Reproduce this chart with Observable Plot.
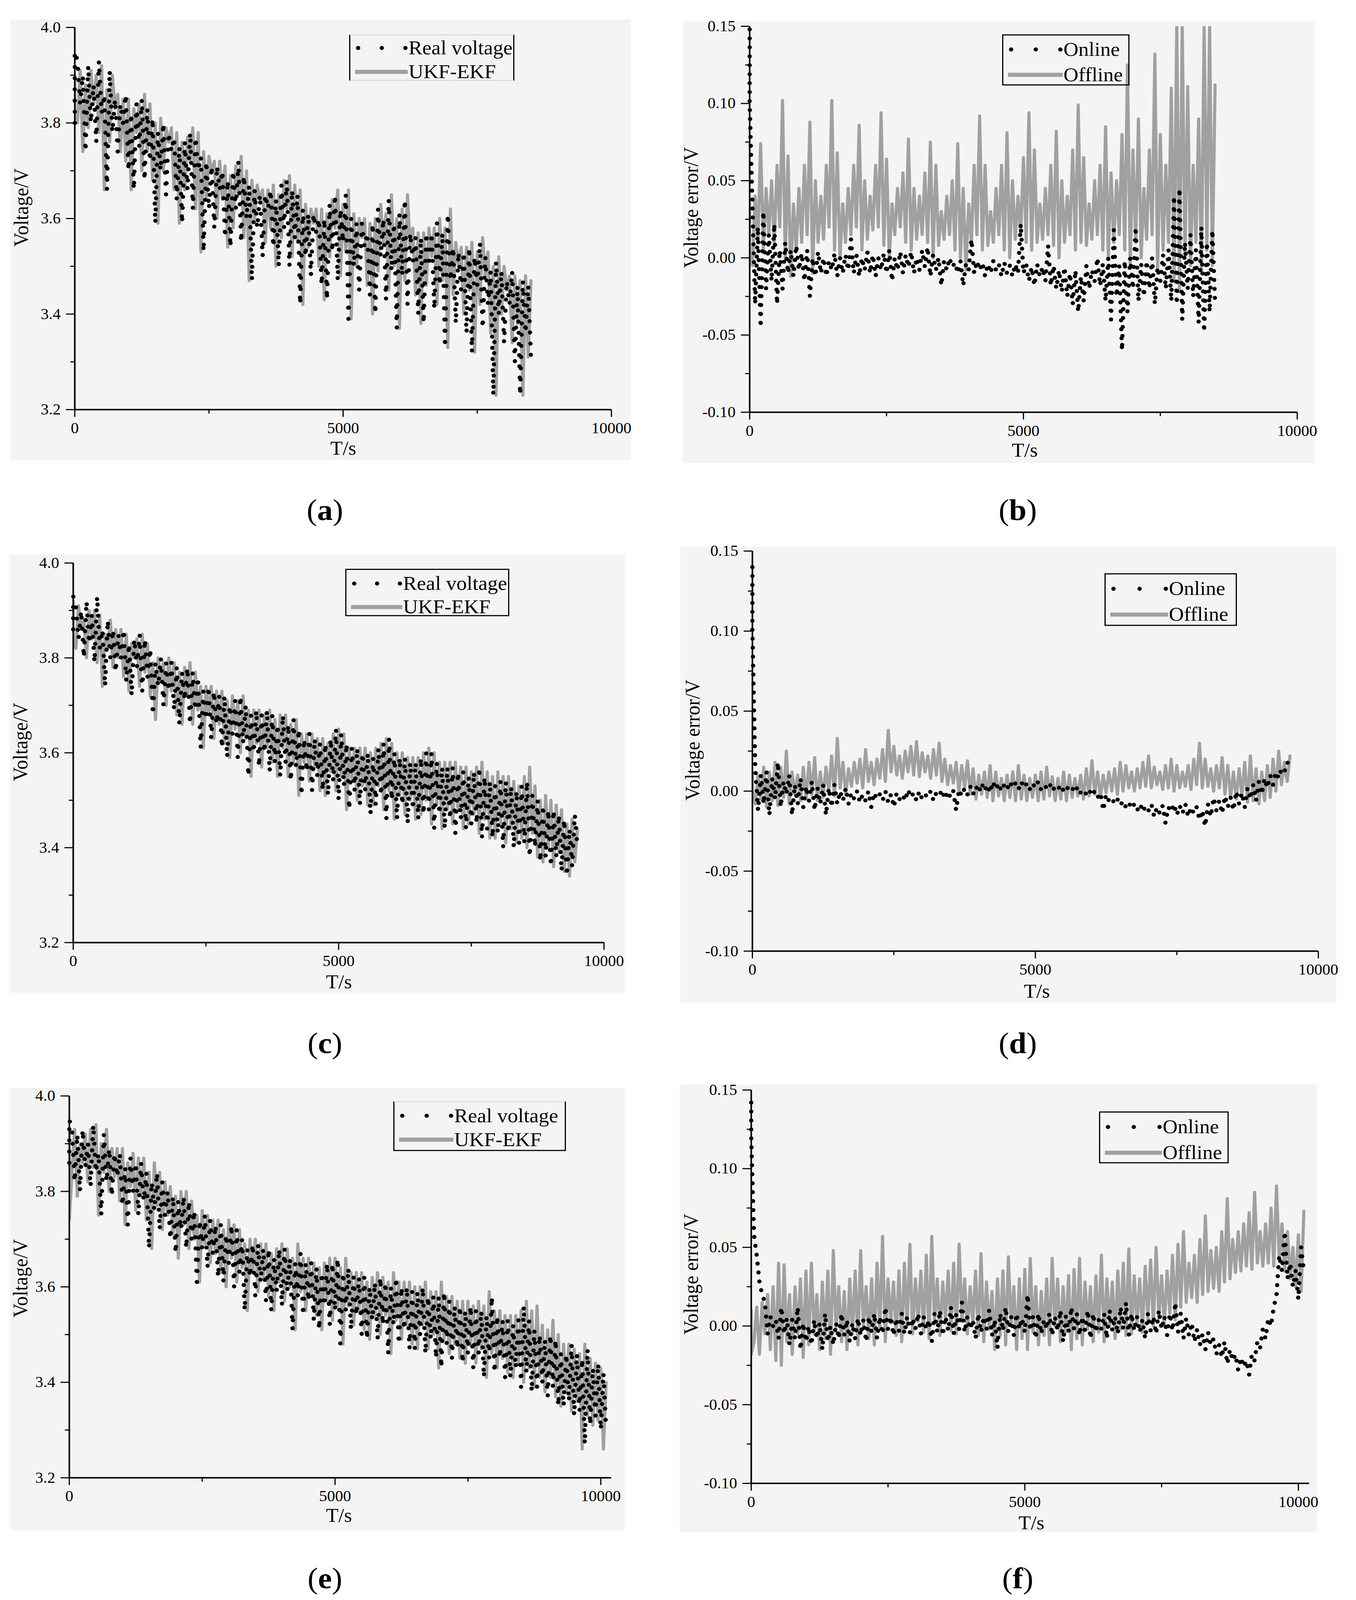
<!DOCTYPE html>
<html>
<head>
<meta charset="utf-8">
<script src="https://cdn.jsdelivr.net/npm/d3@7"></script>
<script src="https://cdn.jsdelivr.net/npm/@observablehq/plot@0.6"></script>
<style>
  html, body { margin: 0; padding: 0; background: #ffffff; overflow: hidden; }
  #page { position: absolute; left: 0; top: 0; width: 3472px; height: 4287px; background: #ffffff; overflow: hidden;
          transform-origin: 0 0; font-family: "Liberation Serif", "Times New Roman", serif; color: #000; }
  .panel { position: absolute; background: #f4f4f4; }
  .panel svg { display: block; overflow: visible; }
  .txt { position: absolute; white-space: nowrap; transform: translate(-50%, -50%); line-height: 1; }
  .ytitle { transform: translate(-50%, -50%) rotate(-90deg); }
  .legend { position: absolute; box-sizing: border-box; }
  .legend .row { position: absolute; display: flex; align-items: center; transform: translateY(-50%); }
  .legend svg { display: block; }
</style>
</head>
<body>
<div id="page"></div>
<script>
// ================= data =================
// sampling instants (s): grid points and half-step points
const TIME = [
  0,100,200,300,400,500,600,700,800,900,
  1000,1100,1200,1300,1400,1500,1600,1700,1800,1900,
  2000,2100,2200,2300,2400,2500,2600,2700,2800,2900,
  3000,3100,3200,3300,3400,3500,3600,3700,3800,3900,
  4000,4100,4200,4300,4400,4500,4600,4700,4800,4900,
  5000,5100,5200,5300,5400,5500,5600,5700,5800,5900,
  6000,6100,6200,6300,6400,6500,6600,6700,6800,6900,
  7000,7100,7200,7300,7400,7500,7600,7700,7800,7900,
  8000,8100,8200,8300,8400,8500,8600,8700,8800,8900,
  9000,9100,9200,9300,9400,9500,9600,9700,9800,9900,
  10000,10100
];
const TIME_MID = [
  0,50,150,250,350,450,550,650,750,850,
  950,1050,1150,1250,1350,1450,1550,1650,1750,1850,
  1950,2050,2150,2250,2350,2450,2550,2650,2750,2850,
  2950,3050,3150,3250,3350,3450,3550,3650,3750,3850,
  3950,4050,4150,4250,4350,4450,4550,4650,4750,4850,
  4950,5050,5150,5250,5350,5450,5550,5650,5750,5850,
  5950,6050,6150,6250,6350,6450,6550,6650,6750,6850,
  6950,7050,7150,7250,7350,7450,7550,7650,7750,7850,
  7950,8050,8150,8250,8350,8450,8550,8650,8750,8850,
  8950,9050,9150,9250,9350,9450,9550,9650,9750,9850,
  9950,10050
];

// ---- (a) voltage (V). UKF-EKF: upper samples on TIME, lower samples on TIME_MID
const ukfHiA = [
  3.90,3.91,3.88,3.91,3.90,3.92,3.87,3.90,3.86,3.85,
  3.85,3.83,3.84,3.86,3.84,3.80,3.81,3.79,3.79,3.78,
  3.76,3.77,3.79,3.78,3.74,3.73,3.72,3.72,3.71,3.69,
  3.71,3.73,3.70,3.68,3.67,3.66,3.66,3.67,3.65,3.68,
  3.69,3.67,3.66,3.63,3.62,3.62,3.62,3.61,3.64,3.66,
  3.63,3.66,3.61,3.60,3.60,3.59,3.60,3.63,3.61,3.65,
  3.60,3.62,3.65,3.58,3.57,3.57,3.58,3.58,3.60,3.58,
  3.62,3.55,3.54,3.54,3.55,3.53,3.56,3.53,3.50,3.52,
  3.50,3.48,3.48,3.47,3.48,3.47
];
const ukfLoA = [
  3.82,3.80,3.74,3.79,3.84,3.78,3.66,3.76,3.83,3.74,
  3.72,3.66,3.78,3.70,3.74,3.68,3.59,3.70,3.76,3.66,
  3.59,3.66,3.72,3.62,3.53,3.64,3.70,3.60,3.64,3.54,
  3.58,3.65,3.56,3.47,3.60,3.64,3.55,3.58,3.50,3.56,
  3.62,3.52,3.55,3.42,3.54,3.59,3.50,3.43,3.52,3.58,
  3.48,3.53,3.39,3.50,3.56,3.46,3.40,3.49,3.55,3.45,
  3.50,3.37,3.47,3.54,3.44,3.38,3.46,3.52,3.42,3.47,
  3.33,3.44,3.50,3.40,3.45,3.32,3.42,3.48,3.36,3.23,
  3.40,3.45,3.34,3.38,3.23,3.31
];
// real voltage: lower samples on TIME, upper samples on TIME_MID
const realLoA = [
  3.80,3.84,3.74,3.80,3.76,3.82,3.66,3.78,3.74,3.80,
  3.70,3.66,3.75,3.68,3.72,3.59,3.70,3.65,3.74,3.64,
  3.59,3.66,3.62,3.70,3.53,3.62,3.58,3.66,3.56,3.54,
  3.62,3.55,3.60,3.47,3.58,3.52,3.62,3.54,3.50,3.58,
  3.50,3.56,3.42,3.52,3.48,3.57,3.46,3.43,3.53,3.47,
  3.55,3.39,3.50,3.45,3.54,3.44,3.40,3.52,3.43,3.49,
  3.37,3.48,3.42,3.51,3.40,3.38,3.50,3.41,3.46,3.33,
  3.47,3.38,3.45,3.36,3.32,3.46,3.37,3.42,3.23,3.40,
  3.34,3.42,3.30,3.23,3.36,3.31
];
const realHiA = [
  3.95,3.93,3.90,3.92,3.88,3.93,3.86,3.91,3.85,3.84,
  3.86,3.82,3.84,3.85,3.83,3.81,3.78,3.80,3.78,3.77,
  3.75,3.76,3.78,3.77,3.73,3.72,3.71,3.71,3.70,3.68,
  3.70,3.72,3.69,3.67,3.66,3.65,3.65,3.66,3.64,3.67,
  3.68,3.66,3.65,3.62,3.61,3.61,3.60,3.60,3.63,3.65,
  3.62,3.65,3.60,3.59,3.59,3.57,3.59,3.62,3.60,3.64,
  3.59,3.61,3.64,3.57,3.56,3.56,3.57,3.57,3.59,3.57,
  3.61,3.54,3.53,3.53,3.54,3.52,3.55,3.52,3.49,3.51,
  3.49,3.47,3.49,3.46,3.47,3.46
];

// ---- (b) voltage error (V). Offline: upper on TIME, lower on TIME_MID
const offHiB = [
  0.035,0.040,0.074,0.045,0.050,0.060,0.102,0.066,0.035,0.045,
  0.060,0.088,0.050,0.040,0.060,0.102,0.068,0.035,0.045,0.060,
  0.086,0.050,0.040,0.060,0.094,0.064,0.035,0.045,0.055,0.077,
  0.045,0.040,0.055,0.075,0.060,0.030,0.040,0.050,0.074,0.045,
  0.035,0.060,0.092,0.060,0.030,0.045,0.060,0.081,0.050,0.040,
  0.065,0.094,0.070,0.035,0.045,0.060,0.082,0.050,0.040,0.070,
  0.099,0.065,0.035,0.050,0.060,0.085,0.055,0.050,0.080,0.125,
  0.070,0.090,0.045,0.070,0.132,0.080,0.060,0.110,0.150,0.150,
  0.111,0.060,0.090,0.150,0.150,0.112
];
const offLoB = [
  0.000,-0.005,0.010,0.005,0.015,0.010,0.020,0.000,-0.012,0.005,
  0.010,0.015,-0.010,0.010,0.012,0.020,0.005,0.000,0.010,0.015,
  0.020,0.005,0.012,0.018,0.020,0.008,0.000,0.015,0.020,0.010,
  0.005,0.012,0.015,0.010,0.000,0.008,0.012,0.015,0.005,0.000,
  -0.008,0.010,0.015,0.005,0.008,0.010,0.015,0.005,0.000,0.012,
  0.015,0.010,0.005,0.010,0.012,0.015,0.008,0.000,0.010,0.015,
  0.005,0.010,0.008,0.012,0.015,0.005,0.000,0.010,0.015,0.005,
  -0.005,0.010,0.000,0.012,0.015,-0.010,0.005,0.010,-0.015,-0.022,
  0.000,-0.005,0.010,-0.010,0.005,-0.005
];
// Online: lower on TIME, upper on TIME_MID
const onLoB = [
  0.148,-0.030,-0.045,-0.020,-0.015,-0.030,-0.020,-0.010,-0.012,-0.008,
  -0.015,-0.025,-0.012,-0.010,-0.012,-0.008,-0.012,-0.010,-0.008,-0.010,
  -0.012,-0.008,-0.010,-0.012,-0.008,-0.010,-0.015,-0.008,-0.010,-0.006,
  -0.010,-0.008,-0.006,-0.012,-0.008,-0.018,-0.008,-0.006,-0.010,-0.018,
  -0.008,-0.010,-0.008,-0.012,-0.010,-0.008,-0.012,-0.010,-0.012,-0.010,
  -0.010,-0.015,-0.018,-0.012,-0.015,-0.018,-0.020,-0.022,-0.025,-0.030,
  -0.035,-0.028,-0.020,-0.015,-0.018,-0.028,-0.040,-0.025,-0.060,-0.035,
  -0.020,-0.028,-0.025,-0.020,-0.030,-0.015,-0.020,-0.028,-0.030,-0.040,
  -0.020,-0.025,-0.042,-0.048,-0.035,-0.030
];
const onHiB = [
  0.100,0.035,0.020,0.030,0.015,0.022,0.005,0.010,0.005,0.008,
  0.003,0.005,0.000,0.004,0.000,-0.002,0.003,0.000,0.002,0.012,
  0.002,0.000,0.004,0.002,0.000,0.003,0.005,0.000,0.004,0.002,
  0.004,0.000,0.005,0.007,0.002,0.000,-0.002,0.000,-0.003,-0.002,
  -0.004,0.012,-0.002,-0.003,-0.004,-0.002,-0.004,-0.003,-0.005,-0.004,
  0.022,-0.004,-0.006,-0.004,-0.006,0.008,-0.005,-0.008,-0.006,-0.010,
  -0.008,-0.012,-0.005,-0.008,0.000,-0.004,0.000,0.018,-0.005,-0.002,
  0.000,0.020,-0.004,-0.002,0.000,-0.006,0.002,0.005,0.040,0.045,
  0.010,0.015,0.005,0.020,0.010,0.018
];

// ---- (c)
const ukfHiC = [
  3.92,3.91,3.88,3.90,3.90,3.89,3.85,3.88,3.86,3.86,
  3.85,3.83,3.84,3.85,3.83,3.79,3.80,3.79,3.80,3.79,
  3.77,3.78,3.79,3.77,3.74,3.74,3.74,3.73,3.73,3.71,
  3.72,3.71,3.72,3.69,3.69,3.69,3.68,3.69,3.67,3.68,
  3.68,3.66,3.67,3.64,3.64,3.64,3.63,3.63,3.62,3.64,
  3.65,3.64,3.61,3.61,3.61,3.61,3.60,3.61,3.62,3.63,
  3.62,3.60,3.60,3.59,3.59,3.59,3.60,3.61,3.60,3.58,
  3.58,3.58,3.58,3.57,3.57,3.56,3.57,3.58,3.56,3.55,
  3.56,3.55,3.55,3.54,3.53,3.55,3.57,3.53,3.50,3.51,
  3.50,3.49,3.48,3.45,3.46,3.44
];
const ukfLoC = [
  3.84,3.82,3.86,3.80,3.84,3.79,3.74,3.82,3.78,3.80,
  3.76,3.73,3.80,3.74,3.77,3.72,3.67,3.75,3.70,3.73,
  3.68,3.66,3.72,3.66,3.69,3.61,3.68,3.63,3.66,3.62,
  3.59,3.65,3.60,3.63,3.55,3.62,3.57,3.61,3.58,3.55,
  3.61,3.55,3.58,3.51,3.58,3.54,3.57,3.52,3.51,3.56,
  3.52,3.55,3.48,3.54,3.50,3.53,3.49,3.49,3.53,3.48,
  3.52,3.46,3.51,3.47,3.50,3.46,3.47,3.50,3.45,3.49,
  3.44,3.48,3.45,3.48,3.44,3.45,3.47,3.43,3.46,3.42,
  3.42,3.45,3.41,3.44,3.41,3.42,3.40,3.43,3.38,3.37,
  3.40,3.36,3.39,3.35,3.34,3.37
];
const realLoC = [
  3.86,3.84,3.80,3.83,3.79,3.82,3.74,3.80,3.77,3.80,
  3.75,3.72,3.78,3.73,3.76,3.68,3.74,3.70,3.73,3.69,
  3.66,3.71,3.66,3.69,3.61,3.67,3.63,3.66,3.61,3.59,
  3.64,3.59,3.62,3.55,3.60,3.57,3.60,3.56,3.58,3.55,
  3.58,3.54,3.57,3.51,3.56,3.52,3.55,3.52,3.51,3.54,
  3.50,3.53,3.48,3.52,3.49,3.52,3.47,3.49,3.51,3.46,
  3.50,3.46,3.49,3.45,3.48,3.46,3.47,3.48,3.44,3.47,
  3.44,3.46,3.43,3.46,3.44,3.45,3.45,3.42,3.44,3.42,
  3.43,3.40,3.43,3.40,3.41,3.41,3.38,3.40,3.37,3.38,
  3.36,3.38,3.35,3.34,3.36,3.40
];
const realHiC = [
  3.93,3.91,3.90,3.92,3.89,3.93,3.86,3.88,3.86,3.85,
  3.86,3.83,3.84,3.85,3.84,3.82,3.79,3.80,3.79,3.79,
  3.78,3.77,3.78,3.77,3.76,3.73,3.74,3.73,3.72,3.72,
  3.70,3.71,3.72,3.70,3.68,3.69,3.68,3.69,3.68,3.66,
  3.68,3.66,3.67,3.65,3.63,3.64,3.63,3.62,3.62,3.63,
  3.65,3.64,3.62,3.61,3.61,3.60,3.60,3.59,3.61,3.62,
  3.63,3.60,3.59,3.59,3.58,3.58,3.59,3.60,3.60,3.58,
  3.57,3.57,3.57,3.56,3.56,3.55,3.56,3.57,3.55,3.54,
  3.53,3.54,3.54,3.53,3.52,3.53,3.54,3.51,3.50,3.49,
  3.48,3.48,3.47,3.46,3.44,3.47
];

// ---- (d)
const offHiD = [
  0.012,0.010,0.015,0.012,0.018,0.015,0.025,0.012,0.010,0.015,
  0.018,0.021,0.012,0.015,0.022,0.033,0.018,0.014,0.018,0.020,
  0.026,0.018,0.020,0.026,0.038,0.028,0.022,0.025,0.028,0.031,
  0.024,0.022,0.026,0.030,0.020,0.016,0.018,0.016,0.019,0.014,
  0.010,0.012,0.016,0.012,0.008,0.010,0.012,0.016,0.010,0.008,
  0.010,0.012,0.015,0.009,0.008,0.012,0.010,0.008,0.010,0.014,
  0.019,0.012,0.010,0.012,0.014,0.018,0.016,0.012,0.014,0.018,
  0.022,0.015,0.012,0.016,0.020,0.016,0.012,0.016,0.020,0.030,
  0.020,0.014,0.016,0.021,0.016,0.012,0.014,0.018,0.022,0.014,
  0.012,0.016,0.020,0.025,0.018,0.022
];
const offLoD = [
  0.000,-0.008,-0.005,-0.010,-0.006,-0.009,-0.004,-0.008,-0.002,-0.006,
  -0.005,-0.002,-0.006,-0.004,0.000,-0.003,0.002,-0.002,0.003,0.005,
  0.002,0.006,0.004,0.008,0.006,0.012,0.010,0.008,0.012,0.010,
  0.009,0.012,0.008,0.010,0.006,0.004,0.005,0.000,0.002,-0.002,
  -0.005,-0.002,-0.004,-0.006,-0.003,-0.006,-0.004,-0.006,-0.005,-0.006,
  -0.004,-0.006,-0.005,-0.003,-0.006,-0.005,-0.006,-0.004,-0.003,-0.005,
  -0.003,-0.002,-0.004,-0.001,0.000,-0.002,0.000,0.002,0.000,0.002,
  0.003,0.002,0.004,0.001,0.002,0.000,0.002,0.003,0.001,0.004,
  0.002,0.003,0.000,0.002,-0.002,-0.004,-0.005,-0.003,-0.007,-0.006,
  -0.008,-0.006,-0.004,0.000,0.004,0.006
];
const onLoD = [
  0.140,-0.012,-0.008,-0.015,-0.005,-0.010,-0.002,-0.015,-0.008,-0.010,
  -0.006,-0.012,-0.008,-0.015,-0.010,-0.008,-0.006,-0.008,-0.005,-0.007,
  -0.006,-0.010,-0.005,-0.006,-0.007,-0.010,-0.005,-0.006,-0.004,-0.006,
  -0.005,-0.004,-0.006,-0.003,-0.005,-0.004,-0.012,-0.003,-0.002,-0.002,
  -0.001,0.000,-0.001,0.001,0.000,0.001,0.002,0.001,0.002,0.001,
  0.002,0.001,0.002,0.000,0.001,0.000,0.000,-0.001,-0.001,-0.002,
  -0.003,-0.004,-0.012,-0.006,-0.008,-0.009,-0.010,-0.011,-0.012,-0.013,
  -0.012,-0.016,-0.014,-0.020,-0.013,-0.015,-0.014,-0.016,-0.014,-0.018,
  -0.022,-0.016,-0.012,-0.014,-0.010,-0.012,-0.008,-0.010,-0.005,-0.006,
  -0.002,0.002,0.004,0.008,0.012,0.016
];
const onHiD = [
  0.100,0.015,0.010,0.012,0.008,0.018,0.006,0.010,0.004,0.008,
  0.003,0.006,0.002,0.004,0.002,0.004,0.000,0.002,-0.001,0.000,
  -0.002,0.000,-0.001,-0.002,0.000,-0.002,-0.001,-0.002,0.001,-0.001,
  0.000,-0.002,0.000,-0.001,0.001,0.000,0.000,0.001,0.002,0.003,
  0.003,0.005,0.004,0.006,0.005,0.004,0.006,0.005,0.006,0.005,
  0.005,0.006,0.004,0.005,0.003,0.004,0.003,0.002,0.003,0.001,
  0.001,0.000,-0.001,-0.002,-0.004,-0.005,-0.006,-0.007,-0.008,-0.008,
  -0.009,-0.008,-0.010,-0.009,-0.010,-0.008,-0.009,-0.008,-0.010,-0.010,
  -0.012,-0.008,-0.004,-0.006,-0.003,-0.004,0.000,-0.001,0.002,0.004,
  0.006,0.008,0.010,0.012,0.014,0.018
];

// ---- (e)
const ukfHiE = [
  3.92,3.93,3.90,3.92,3.93,3.94,3.90,3.93,3.89,3.89,
  3.89,3.86,3.88,3.87,3.87,3.84,3.86,3.84,3.82,3.81,
  3.79,3.80,3.80,3.78,3.75,3.76,3.75,3.74,3.74,3.72,
  3.74,3.73,3.72,3.69,3.70,3.70,3.69,3.69,3.67,3.68,
  3.69,3.68,3.66,3.69,3.66,3.66,3.65,3.64,3.65,3.66,
  3.66,3.64,3.66,3.63,3.63,3.63,3.61,3.62,3.63,3.62,
  3.61,3.63,3.61,3.61,3.61,3.60,3.60,3.61,3.59,3.59,
  3.61,3.58,3.58,3.57,3.57,3.57,3.56,3.57,3.56,3.59,
  3.55,3.55,3.54,3.54,3.54,3.55,3.57,3.55,3.56,3.52,
  3.51,3.53,3.50,3.48,3.48,3.47,3.46,3.48,3.45,3.44,
  3.43,3.40
];
const ukfLoE = [
  3.74,3.84,3.79,3.86,3.82,3.85,3.75,3.84,3.80,3.83,
  3.78,3.73,3.81,3.76,3.79,3.74,3.68,3.77,3.72,3.75,
  3.71,3.66,3.73,3.68,3.70,3.61,3.69,3.65,3.67,3.63,
  3.60,3.66,3.61,3.64,3.55,3.63,3.59,3.62,3.58,3.55,
  3.61,3.57,3.60,3.51,3.59,3.55,3.58,3.54,3.51,3.57,
  3.53,3.56,3.48,3.56,3.52,3.55,3.51,3.49,3.54,3.50,
  3.54,3.46,3.53,3.49,3.52,3.48,3.47,3.52,3.47,3.50,
  3.43,3.49,3.46,3.48,3.45,3.44,3.48,3.44,3.47,3.41,
  3.46,3.43,3.45,3.42,3.41,3.44,3.40,3.43,3.39,3.41,
  3.38,3.41,3.37,3.35,3.38,3.34,3.36,3.26,3.33,3.31,
  3.32,3.26
];
const realLoE = [
  3.86,3.82,3.80,3.85,3.81,3.84,3.75,3.82,3.79,3.83,
  3.77,3.73,3.80,3.75,3.78,3.68,3.76,3.72,3.75,3.70,
  3.67,3.72,3.68,3.70,3.61,3.68,3.64,3.67,3.62,3.61,
  3.65,3.60,3.63,3.55,3.62,3.58,3.61,3.57,3.55,3.59,
  3.56,3.59,3.51,3.58,3.54,3.57,3.53,3.51,3.56,3.52,
  3.55,3.48,3.55,3.51,3.54,3.50,3.49,3.53,3.49,3.52,
  3.46,3.52,3.48,3.51,3.47,3.47,3.50,3.46,3.49,3.45,
  3.43,3.48,3.45,3.47,3.44,3.46,3.43,3.46,3.41,3.45,
  3.42,3.45,3.41,3.41,3.43,3.39,3.42,3.38,3.39,3.40,
  3.37,3.39,3.35,3.35,3.36,3.33,3.34,3.27,3.31,3.33,
  3.30,3.30
];
const realHiE = [
  3.95,3.93,3.92,3.93,3.90,3.94,3.88,3.92,3.89,3.88,
  3.88,3.85,3.87,3.86,3.86,3.84,3.82,3.84,3.82,3.80,
  3.79,3.78,3.79,3.78,3.76,3.74,3.75,3.74,3.73,3.73,
  3.71,3.73,3.72,3.70,3.68,3.69,3.69,3.68,3.68,3.66,
  3.68,3.68,3.66,3.65,3.67,3.65,3.65,3.64,3.63,3.65,
  3.65,3.66,3.63,3.64,3.62,3.62,3.62,3.60,3.61,3.62,
  3.61,3.60,3.62,3.60,3.60,3.59,3.59,3.60,3.58,3.58,
  3.58,3.59,3.57,3.56,3.56,3.55,3.56,3.55,3.55,3.54,
  3.58,3.54,3.53,3.53,3.52,3.53,3.56,3.53,3.51,3.50,
  3.49,3.50,3.49,3.46,3.46,3.48,3.46,3.45,3.47,3.43,
  3.44,3.42
];

// ---- (f)
const offHiF = [
  0.010,0.012,0.015,0.020,0.025,0.040,0.039,0.020,0.025,0.030,
  0.035,0.040,0.020,0.028,0.035,0.048,0.025,0.022,0.030,0.035,
  0.048,0.025,0.030,0.040,0.057,0.030,0.028,0.035,0.040,0.052,
  0.030,0.035,0.045,0.057,0.030,0.028,0.035,0.040,0.052,0.030,
  0.025,0.035,0.046,0.028,0.022,0.030,0.035,0.044,0.025,0.030,
  0.036,0.043,0.025,0.022,0.030,0.043,0.030,0.025,0.032,0.036,
  0.043,0.028,0.025,0.032,0.045,0.030,0.028,0.035,0.040,0.049,
  0.032,0.030,0.038,0.042,0.050,0.032,0.035,0.045,0.052,0.060,
  0.040,0.045,0.055,0.070,0.048,0.050,0.060,0.081,0.055,0.060,
  0.065,0.072,0.085,0.060,0.065,0.075,0.089,0.065,0.060,0.050,
  0.058,0.073
];
const offLoF = [
  -0.018,-0.010,-0.018,-0.005,-0.015,-0.022,-0.025,-0.010,-0.018,-0.005,
  -0.020,-0.012,-0.005,-0.015,-0.008,-0.018,-0.002,-0.010,-0.015,-0.005,
  -0.012,0.000,-0.008,-0.012,-0.002,-0.010,0.002,-0.006,-0.010,0.000,
  -0.005,0.003,-0.004,-0.008,0.002,-0.006,0.004,-0.003,-0.005,0.003,
  -0.005,0.002,-0.006,-0.010,-0.002,-0.015,-0.006,-0.012,0.000,-0.015,
  -0.008,-0.015,-0.004,-0.012,-0.006,-0.012,0.000,-0.010,-0.004,-0.015,
  -0.008,-0.012,-0.002,-0.010,-0.004,-0.010,0.000,-0.008,-0.002,-0.006,
  -0.005,0.002,-0.004,0.004,0.000,0.005,0.000,0.008,0.004,0.012,
  0.015,0.018,0.015,0.020,0.022,0.024,0.022,0.028,0.030,0.034,
  0.035,0.038,0.036,0.040,0.038,0.040,0.038,0.042,0.035,0.030,
  0.025,0.022
];
const onLoF = [
  0.142,0.045,0.020,-0.005,0.000,-0.008,-0.005,-0.012,-0.008,-0.015,
  -0.010,-0.012,-0.008,-0.015,-0.010,-0.012,-0.008,-0.006,-0.010,-0.008,
  -0.006,-0.010,-0.004,-0.008,-0.005,-0.002,-0.006,-0.003,-0.005,-0.004,
  -0.002,-0.005,-0.002,-0.010,-0.004,-0.006,-0.003,-0.005,-0.002,-0.004,
  -0.002,-0.008,-0.004,-0.002,-0.006,-0.014,-0.003,-0.004,-0.006,-0.002,
  -0.004,-0.003,-0.008,-0.005,-0.002,-0.006,-0.003,-0.010,-0.004,-0.002,
  -0.006,-0.003,-0.008,-0.004,-0.002,-0.008,-0.003,-0.005,-0.002,-0.006,
  -0.003,-0.004,-0.008,-0.003,-0.005,-0.002,-0.006,-0.003,-0.004,-0.008,
  -0.006,-0.010,-0.012,-0.015,-0.012,-0.018,-0.020,-0.024,-0.022,-0.028,
  -0.026,-0.031,-0.022,-0.014,-0.008,0.000,0.020,0.035,0.030,0.025,
  0.017,0.035
];
const onHiF = [
  0.120,0.058,0.028,0.015,0.006,0.004,0.012,0.005,0.004,0.012,
  0.002,0.000,0.004,0.002,0.008,0.000,0.002,0.008,0.004,0.002,
  0.005,0.004,0.006,0.008,0.006,0.012,0.006,0.005,0.008,0.006,
  0.005,0.008,0.006,0.004,0.008,0.010,0.006,0.012,0.008,0.015,
  0.006,0.004,0.008,0.006,0.010,0.004,0.008,0.012,0.006,0.008,
  0.005,0.020,0.006,0.008,0.004,0.008,0.006,0.010,0.006,0.012,
  0.008,0.006,0.010,0.008,0.004,0.008,0.010,0.006,0.012,0.015,
  0.008,0.006,0.004,0.008,0.006,0.010,0.006,0.008,0.015,0.008,
  0.005,0.002,-0.002,-0.005,-0.004,-0.008,-0.012,-0.010,-0.015,-0.018,
  -0.020,-0.022,-0.018,-0.010,-0.002,0.005,0.012,0.045,0.060,0.040,
  0.035,0.050
];

// ---- ticks and labels
const VOLT_TICKS = [3.2, 3.4, 3.6, 3.8, 4.0];
const VOLT_MINOR = [3.3, 3.5, 3.7, 3.9];
const ERR_TICKS = [-0.10, -0.05, 0.00, 0.05, 0.10, 0.15];
const ERR_MINOR = [-0.075, -0.025, 0.025, 0.075, 0.125];
const TIME_TICKS = [0, 5000, 10000];
const TIME_MINOR = [2500, 7500];
const VOLT_SERIES = ["Real voltage", "UKF-EKF"];
const ERR_SERIES = ["Online", "Offline"];
const X_TITLE = "T/s";
const VOLT_TITLE = "Voltage/V";
const ERR_TITLE = "Voltage error/V";
const LETTERS = ["a", "b", "c", "d", "e", "f"];

// ================= layout (positions / styles only) =================
const PAGE_W = 3472, PAGE_H = 4287;
const GREY = "#a0a0a0";
const panels = [
  { kind: "volt", greyHi: ukfHiA, greyLo: ukfLoA, blackLo: realLoA, blackHi: realHiA,
    box: [27, 52, 1588, 1181], m: [21, 50, 136, 164], xMax: 10000,
    legend: { x: 894, y: 92, w: 423, h: 125, textX: 1045, rows: [33, 97], border: ["#dcdcdc", "#000", "#dcdcdc", "#000"] },
    xt: [879, 1201], yt: [55, 556], cap: [832, 1366] },
  { kind: "err", greyHi: offHiB, greyLo: offLoB, blackLo: onLoB, blackHi: onHiB,
    box: [1748, 56, 1618, 1185], m: [14, 45, 137, 171], xMax: 10000,
    legend: { x: 2566, y: 92, w: 326, h: 137, textX: 2722, rows: [37, 105], border: ["#000", "#000", "#000", "#000"] },
    xt: [2624, 1207], yt: [1770, 556], cap: [2606, 1366] },
  { kind: "volt", greyHi: ukfHiC, greyLo: ukfLoC, blackLo: realLoC, blackHi: realHiC,
    box: [26, 1485, 1574, 1175], m: [23, 54, 135, 161], xMax: 10000,
    legend: { x: 884, y: 1524, w: 420, h: 127, textX: 1031, rows: [36, 99], border: ["#000", "#000", "#000", "#000"] },
    xt: [868, 2631], yt: [53, 1988], cap: [832, 2795] },
  { kind: "err", greyHi: offHiD, greyLo: offLoD, blackLo: onLoD, blackHi: onHiD,
    box: [1742, 1464, 1680, 1224], m: [12, 47, 140, 184], xMax: 10000,
    legend: { x: 2828, y: 1536, w: 339, h: 141, textX: 2992, rows: [38, 107], border: ["#000", "#000", "#000", "#000"] },
    xt: [2655, 2656], yt: [1774, 1983], cap: [2606, 2795] },
  { kind: "volt", greyHi: ukfHiE, greyLo: ukfLoE, blackLo: realLoE, blackHi: realHiE,
    box: [26, 2915, 1574, 1185], m: [21, 35, 141, 151], xMax: 10200,
    legend: { x: 1007, y: 2950, w: 442, h: 134, textX: 1162, rows: [36, 100], border: ["#dcdcdc", "#000", "#000", "#000"] },
    xt: [868, 4061], yt: [53, 3425], cap: [832, 4229] },
  { kind: "err", greyHi: offHiF, greyLo: offLoF, blackLo: onLoF, blackHi: onHiF,
    box: [1740, 2906, 1632, 1199], m: [14, 20, 131, 183], xMax: 10200,
    legend: { x: 2814, y: 2978, w: 332, h: 139, textX: 2976, rows: [38, 107], border: ["#000", "#000", "#000", "#000"] },
    xt: [2641, 4081], yt: [1770, 3414], cap: [2606, 4229] }
];

// interleave two sampled halves of one series into time order
function series(first, firstTimes, second, secondTimes) {
  const rows = first.map((v, i) => ({ t: firstTimes[i], v, k: 0 }))
    .concat(second.map((v, i) => ({ t: secondTimes[i], v, k: 1 })));
  return rows.sort((p, q) => (p.t - q.t) || (p.k - q.k));
}

function addText(page, html, x, y, size, cls) {
  const d = document.createElement("div");
  d.className = "txt" + (cls ? " " + cls : "");
  d.style.left = x + "px";
  d.style.top = y + "px";
  d.style.fontSize = size + "px";
  d.innerHTML = html;
  page.appendChild(d);
}

function build(p, idx) {
  const page = document.getElementById("page");
  const volt = p.kind === "volt";
  const [bx, by, bw, bh] = p.box;
  const holder = document.createElement("div");
  holder.className = "panel";
  Object.assign(holder.style, { left: bx + "px", top: by + "px", width: bw + "px", height: bh + "px" });

  const ticks = volt ? VOLT_TICKS : ERR_TICKS;
  const yDomain = [ticks[0], ticks[ticks.length - 1]];
  const chart = Plot.plot({
    width: bw, height: bh,
    marginTop: p.m[0], marginRight: p.m[1], marginBottom: p.m[2], marginLeft: p.m[3],
    x: { domain: [0, p.xMax] },
    y: { domain: yDomain },
    style: { background: "transparent", fontFamily: '"Liberation Serif", "Times New Roman", serif', fontSize: "41px", color: "#000", overflow: "visible" },
    marks: [
      Plot.line(series(p.greyHi, TIME, p.greyLo, TIME_MID), { x: "t", y: "v", stroke: GREY, strokeWidth: 8, clip: true }),
      Plot.line(series(p.blackLo, TIME, p.blackHi, TIME_MID), { x: "t", y: "v", stroke: "#000", strokeWidth: 11,
        strokeDasharray: volt ? "0 30" : "0 24", strokeLinecap: "round" }),
      Plot.axisX({ ticks: TIME_TICKS, tickSize: 20, tickPadding: 14, tickFormat: d3.format("d"), label: null, strokeWidth: 3 }),
      Plot.axisX({ ticks: TIME_MINOR, tickSize: 11, tickFormat: () => "", label: null, strokeWidth: 3 }),
      Plot.axisY({ ticks, tickSize: 22, tickPadding: 14,
        tickFormat: volt ? d3.format(".1f") : (d => d.toFixed(2)), label: null, strokeWidth: 3 }),
      Plot.axisY({ ticks: volt ? VOLT_MINOR : ERR_MINOR, tickSize: 11, tickFormat: () => "", label: null, strokeWidth: 3 }),
      Plot.ruleX([0], { strokeWidth: 4 }),
      Plot.ruleY([yDomain[0]], { strokeWidth: 4 })
    ]
  });
  holder.appendChild(chart);
  page.appendChild(holder);

  // legend
  const L = p.legend;
  const lg = document.createElement("div");
  lg.className = "legend";
  Object.assign(lg.style, {
    left: L.x + "px", top: L.y + "px", width: L.w + "px", height: L.h + "px",
    borderStyle: "solid", borderWidth: "3px",
    borderTopColor: L.border[0], borderRightColor: L.border[1], borderBottomColor: L.border[2], borderLeftColor: L.border[3]
  });
  const names = volt ? VOLT_SERIES : ERR_SERIES;
  const sw = L.textX - L.x - 14;
  names.forEach((name, i) => {
    const r = document.createElement("div");
    r.className = "row";
    r.style.top = L.rows[i] + "px";
    r.style.left = "10px";
    const sample = i === 0
      ? `<svg width="${sw}" height="24"><g fill="#000"><circle cx="10" cy="12" r="5.5"/><circle cx="${sw / 2 + 2}" cy="12" r="5.5"/><circle cx="${sw - 6}" cy="12" r="5.5"/></g></svg>`
      : `<svg width="${sw}" height="24"><line x1="2" y1="12" x2="${sw}" y2="12" stroke="${GREY}" stroke-width="11"/></svg>`;
    r.innerHTML = sample + `<span style="font-size:53px;line-height:1;margin-left:2px">${name}</span>`;
    lg.appendChild(r);
  });
  page.appendChild(lg);

  addText(page, X_TITLE, p.xt[0], p.xt[1], 52);
  addText(page, volt ? VOLT_TITLE : ERR_TITLE, p.yt[0], p.yt[1], 52, "ytitle");
  addText(page, `(<b>${LETTERS[idx]}</b>)`, p.cap[0], p.cap[1], 80);
}

panels.forEach(build);

// fit the whole composition into the visible viewport
function fit() {
  const page = document.getElementById("page");
  const vw = document.documentElement.clientWidth || window.innerWidth;
  const vh = document.documentElement.clientHeight || window.innerHeight;
  const sx = Math.min(1, vw / PAGE_W), sy = Math.min(1, vh / PAGE_H);
  page.style.transform = (sx < 1 || sy < 1) ? `scale(${sx}, ${sy})` : "none";
}
fit();
window.addEventListener("resize", fit);
</script>
</body>
</html>
